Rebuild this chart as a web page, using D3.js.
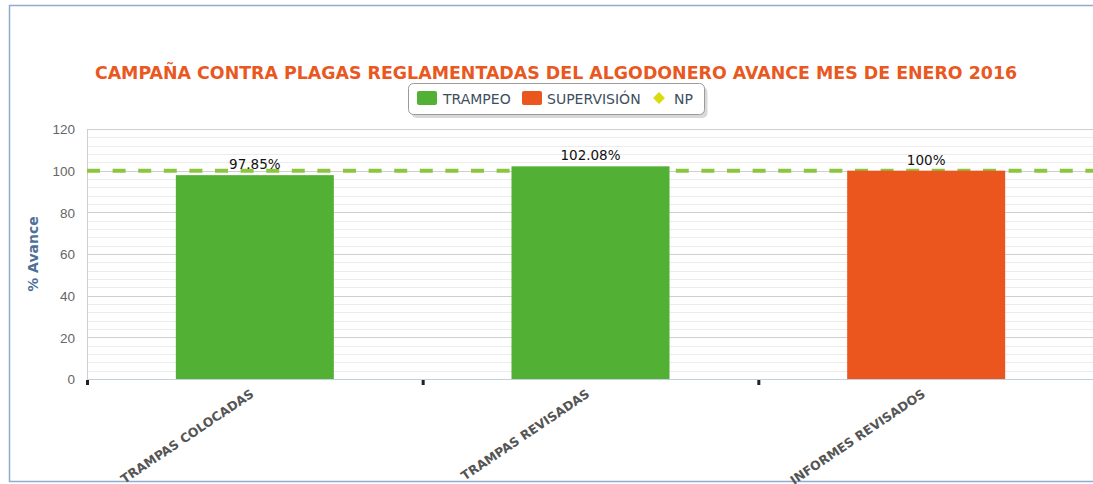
<!DOCTYPE html>
<html lang="es">
<head>
<meta charset="UTF-8">
<title>Campaña contra plagas reglamentadas del algodonero</title>
<script src="https://d3js.org/d3.v7.min.js"></script>
<style>
    body { margin: 0; background: #fff; }
    svg { font-family: "DejaVu Sans", Verdana, sans-serif; display: block; }
    .ytick text { fill: #666; font-size: 13.5px; }
    .xlabel { fill: #555; font-size: 12.5px; font-weight: bold; }
    .value { fill: #111; font-size: 13.5px; }
    .legend text { fill: #3e4e5e; font-size: 14px; }
</style>
</head>
<body>
<svg width="1093" height="484"></svg>
<script>
    const categories = ['TRAMPAS COLOCADAS', 'TRAMPAS REVISADAS', 'INFORMES REVISADOS'];
    const seriesNames = ['TRAMPEO', 'SUPERVISIÓN', 'NP'];
    const trampeo = [97.85, 102.08, null];
    const supervision = [null, null, 100];
    const npValue = 100;
    const valueLabels = ['97.85%', '102.08%', '100%'];
    const yTicks = [0, 20, 40, 60, 80, 100, 120];

    const colors = { TRAMPEO: '#52b135', 'SUPERVISIÓN': '#ea561e', NP: '#d9dc13' };

    const svg = d3.select('svg');
    const width = +svg.attr('width');
    const height = +svg.attr('height');
    const margin = { top: 129, right: -1, bottom: 105, left: 87 };

    // outer frame
    svg.append('rect')
        .attr('x', 9.5).attr('y', 5.5)
        .attr('width', 1200).attr('height', 476)
        .attr('fill', 'none')
        .attr('stroke', '#8fabcf')
        .attr('stroke-width', 1.5);

    const x = d3.scaleBand()
        .domain(categories)
        .range([margin.left, width - margin.right])
        .paddingInner(0)
        .paddingOuter(0);

    const y = d3.scaleLinear()
        .domain([0, 120])
        .range([height - margin.bottom, margin.top]);

    // minor grid
    svg.append('g')
        .selectAll('line')
        .data(d3.range(0, 121, 4).filter(v => v % 20 !== 0))
        .join('line')
        .attr('x1', margin.left).attr('x2', width)
        .attr('y1', d => Math.round(y(d)) + 0.5).attr('y2', d => Math.round(y(d)) + 0.5)
        .attr('stroke', '#ececec');

    // major grid
    svg.append('g')
        .selectAll('line')
        .data(yTicks.filter(v => v > 0))
        .join('line')
        .attr('x1', margin.left).attr('x2', width)
        .attr('y1', d => Math.round(y(d)) + 0.5).attr('y2', d => Math.round(y(d)) + 0.5)
        .attr('stroke', '#cfcfcf');

    // y axis line
    svg.append('line')
        .attr('x1', margin.left + 0.5).attr('x2', margin.left + 0.5)
        .attr('y1', y(120)).attr('y2', y(0))
        .attr('stroke', '#cfcfcf');

    // y tick labels
    const yAxis = svg.append('g')
        .attr('class', 'ytick')
        .attr('transform', `translate(${margin.left},0)`)
        .call(d3.axisLeft(y).tickValues(yTicks).tickSize(0).tickPadding(12));
    yAxis.select('.domain').remove();
    yAxis.selectAll('text').attr('dy', '0.36em');

    // NP dashed line (behind the bars)
    svg.append('line')
        .attr('x1', margin.left).attr('x2', width)
        .attr('y1', y(npValue)).attr('y2', y(npValue))
        .attr('stroke', '#8cc63f')
        .attr('stroke-width', 4)
        .attr('stroke-dasharray', '13,12.6');

    // bars
    const bw = 158;
    const bars = [];
    categories.forEach((c, i) => {
        if (trampeo[i] != null) bars.push({ cat: c, v: trampeo[i], s: 'TRAMPEO', label: valueLabels[i] });
        if (supervision[i] != null) bars.push({ cat: c, v: supervision[i], s: 'SUPERVISIÓN', label: valueLabels[i] });
    });

    svg.append('g')
        .selectAll('rect')
        .data(bars)
        .join('rect')
        .attr('x', d => x(d.cat) + x.bandwidth() / 2 - bw / 2)
        .attr('y', d => y(d.v))
        .attr('width', bw)
        .attr('height', d => y(0) - y(d.v))
        .attr('fill', d => colors[d.s]);

    // x axis line
    svg.append('line')
        .attr('x1', margin.left).attr('x2', width)
        .attr('y1', y(0) + 0.5).attr('y2', y(0) + 0.5)
        .attr('stroke', '#c0d0e0');

    // x ticks
    svg.append('g')
        .selectAll('rect')
        .data(categories)
        .join('rect')
        .attr('x', d => x(d) - 1)
        .attr('y', y(0) + 1)
        .attr('width', 3).attr('height', 5)
        .attr('fill', '#222');

    // value labels
    svg.append('g')
        .selectAll('text')
        .data(bars)
        .join('text')
        .attr('class', 'value')
        .attr('x', d => x(d.cat) + x.bandwidth() / 2)
        .attr('y', d => y(d.v) - 6)
        .attr('text-anchor', 'middle')
        .text(d => d.label);

    // x labels (rotated)
    svg.append('g')
        .selectAll('text')
        .data(categories)
        .join('text')
        .attr('class', 'xlabel')
        .attr('text-anchor', 'end')
        .attr('transform', d => `translate(${x(d) + x.bandwidth() / 2},${y(0) + 17}) rotate(-34)`)
        .text(d => d);

    // y axis title
    svg.append('text')
        .attr('transform', `translate(38,254) rotate(-90)`)
        .attr('text-anchor', 'middle')
        .attr('fill', '#4d7099')
        .style('font-size', '14px')
        .style('font-weight', 'bold')
        .text('% Avance');

    // title
    svg.append('text')
        .attr('x', 556).attr('y', 79)
        .attr('text-anchor', 'middle')
        .attr('fill', '#e8581f')
        .style('font-size', '17.4px')
        .style('font-weight', 'bold')
        .text('CAMPAÑA CONTRA PLAGAS REGLAMENTADAS DEL ALGODONERO AVANCE MES DE ENERO 2016');

    // legend
    const legend = svg.append('g').attr('class', 'legend');
    legend.append('rect')
        .attr('x', 410.5).attr('y', 85.5)
        .attr('width', 296).attr('height', 31)
        .attr('rx', 5)
        .attr('fill', '#c8c8c8')
        .attr('transform', 'translate(1,1.5)')
        .attr('opacity', 0.7);
    legend.append('rect')
        .attr('x', 408.5).attr('y', 83.5)
        .attr('width', 296).attr('height', 31)
        .attr('rx', 5)
        .attr('fill', '#fff')
        .attr('stroke', '#9a9a9a');

    const items = [
        { name: seriesNames[0], x: 417, tx: 443 },
        { name: seriesNames[1], x: 522, tx: 547 },
        { name: seriesNames[2], x: 652, tx: 674 }
    ];
    items.forEach(it => {
        if (it.name === 'NP') {
            legend.append('path')
                .attr('d', d3.symbol(d3.symbolDiamond2, 90)())
                .attr('transform', `translate(${it.x + 7},98)`)
                .attr('fill', colors.NP);
        } else {
            legend.append('rect')
                .attr('x', it.x).attr('y', 91)
                .attr('width', 20).attr('height', 14)
                .attr('rx', 2)
                .attr('fill', colors[it.name]);
        }
        legend.append('text')
            .attr('x', it.tx).attr('y', 104)
            .text(it.name);
    });
</script>
</body>
</html>
